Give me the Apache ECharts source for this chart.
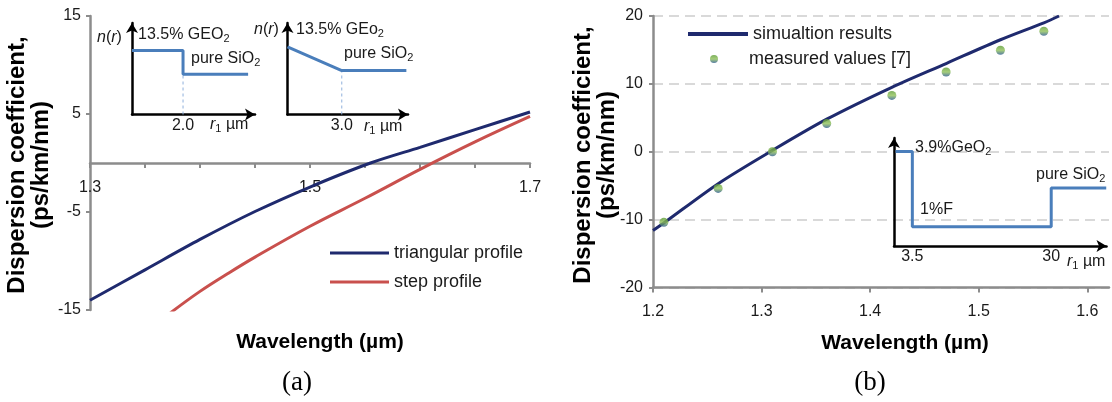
<!DOCTYPE html>
<html><head><meta charset="utf-8">
<script src="https://cdn.jsdelivr.net/npm/echarts@6/dist/echarts.min.js"></script>
<style>html,body{margin:0;padding:0;background:#fff}#c{width:1112px;height:402px}</style>
</head><body><div id="c"></div>
<script>
// ---- Panel (a) ----
const wlA_tri = [1.30, 1.35, 1.40, 1.45, 1.50, 1.555, 1.60, 1.65, 1.70];
const dA_tri = [-14.0, -10.9, -7.8, -4.95, -2.45, 0.0, 1.6, 3.4, 5.2];
const wlA_step = [1.373, 1.40, 1.425, 1.45, 1.50, 1.55, 1.60, 1.65, 1.70];
const dA_step = [-15.3, -13.1, -11.3, -9.6, -6.45, -3.6, -0.65, 2.15, 4.75];
const xLabelsA = [1.3, 1.5, 1.7];
// ---- Panel (b) ----
const wlB_sim = [1.20, 1.21, 1.26, 1.31, 1.36, 1.42, 1.47, 1.52, 1.56, 1.574];
const dB_sim = [-11.6, -10.5, -4.7, 0.2, 4.8, 9.5, 13.0, 16.5, 19.0, 20.0];
const wlB_meas = [1.21, 1.26, 1.31, 1.36, 1.42, 1.47, 1.52, 1.56];
const dB_meas = [-10.4, -5.4, 0.0, 4.15, 8.3, 11.75, 14.95, 17.75];
const xLabelsB = [1.2, 1.3, 1.4, 1.5, 1.6];
// ---- Inset index profiles (radius, relative index) ----
const stepR = [0, 2.0, 2.0, 4.55];
const stepN = [0.70, 0.70, 0.44, 0.44];
const triR = [0, 3.0, 6.57];
const triN = [0.74, 0.48, 0.48];
const wR = [0.3, 3.5, 3.5, 30, 30, 40.5];
const wN = [0.876, 0.876, 0.179, 0.179, 0.536, 0.536];
const insetTicks1 = [2.0], insetTicks2 = [3.0], insetTicks3 = [3.5, 30];

const zip = (a, b) => a.map((v, i) => [v, b[i]]);
const FF = 'Liberation Sans, Arial, sans-serif';
const TXT = '#1a1a1a';
const GRAY = '#8c8c8c';
const NAVY = '#1f2a6e';
const RED = '#c9504d';
const BLUE = '#4a7ebb';

// panel (a) y range and grid height; the x axis sits at D = 0
const yMinA = -15, yMaxA = 15, gridHA = 294;
const zeroOffsetA = -((0 - yMinA) / (yMaxA - yMinA)) * gridHA;

const chart = echarts.init(document.getElementById('c'), null, {renderer: 'canvas'});

function mainY(grid, min, max, margin, split) {
  return {type: 'value', gridIndex: grid, min, max, interval: 10,
    axisLine: {show: true, onZero: false, lineStyle: {color: GRAY, width: 2.5}},
    axisTick: {show: true, length: 4, lineStyle: {color: GRAY, width: 2}},
    axisLabel: {margin, fontSize: 16, color: TXT, fontFamily: FF},
    splitLine: split ? {show: true, lineStyle: {color: '#d9d9d9', width: 2, type: [10, 6]}} : {show: false}};
}
function insetX(grid, max, ticks) {
  return {type: 'value', gridIndex: grid, min: 0, max,
    axisLine: {show: true, onZero: false, symbol: ['none', 'arrow'], symbolSize: [9, 10], lineStyle: {color: '#000', width: 2.5}},
    axisTick: {show: false},
    axisLabel: {customValues: ticks, formatter: v => (v === 30 ? '30' : v.toFixed(1)), margin: 3, fontSize: 16, color: TXT, fontFamily: FF},
    splitLine: {show: false}};
}
function insetY(grid) {
  return {type: 'value', gridIndex: grid, min: 0, max: 1,
    axisLine: {show: true, onZero: false, symbol: ['none', 'arrow'], symbolSize: [9, 10], lineStyle: {color: '#000', width: 2.5}},
    axisTick: {show: false}, axisLabel: {show: false}, splitLine: {show: false}};
}
const sub = {fontSize: 11, fontFamily: FF, fill: TXT, padding: [7, 0, 0, 0]};
const it = {fontSize: 16, fontFamily: FF, fontStyle: 'italic', fill: TXT};
const nn = {fontSize: 16, fontFamily: FF, fill: TXT};
function txt(x, y, text, extra) {
  return Object.assign({type: 'text', x, y, z: 100,
    style: Object.assign({text, fill: TXT, fontSize: 16, fontFamily: FF, align: 'left', verticalAlign: 'middle',
      textAlign: 'left', textVerticalAlign: 'middle', rich: {s: sub, i: it, n: nn}}, extra || {})});
}
function title(x, y, text, rot, size) {
  return {type: 'text', x, y, rotation: rot || 0, z: 100,
    style: {text, fill: '#000', fontSize: size || 21, fontWeight: 'bold', fontFamily: FF, lineHeight: 24,
      align: 'center', verticalAlign: 'middle', textAlign: 'center', textVerticalAlign: 'middle'}};
}
function caption(x, y, text) {
  return {type: 'text', x, y, z: 100, style: {text, fill: '#000', fontSize: 27, fontFamily: 'Liberation Serif, Times New Roman, serif',
    align: 'center', verticalAlign: 'middle', textAlign: 'center', textVerticalAlign: 'middle'}};
}

const scatterGrad = {type: 'linear', x: 0, y: 0, x2: 0, y2: 1,
  colorStops: [{offset: 0, color: '#5c9c35'}, {offset: 0.5, color: '#8fc159'}, {offset: 1, color: '#2e5d8e'}]};

chart.setOption({
  animation: false,
  grid: [
    {left: 90, top: 16, width: 440, height: gridHA},
    {left: 653, top: 16, width: 456, height: 271.5},
    {left: 132, top: 23, width: 123, height: 91.5},
    {left: 287.5, top: 23, width: 120.5, height: 91.5},
    {left: 894, top: 138, width: 212.5, height: 108}
  ],
  xAxis: [
    {type: 'value', gridIndex: 0, min: 1.3, max: 1.7, interval: 0.05, offset: zeroOffsetA,
      axisLine: {show: true, onZero: false, lineStyle: {color: GRAY, width: 2.5}},
      axisTick: {show: true, length: 5, lineStyle: {color: GRAY, width: 2}},
      axisLabel: {formatter: v => {
          const k = Math.round(v * 100) / 100;
          return xLabelsA.some(t => Math.abs(t - k) < 1e-6) ? k.toFixed(1) : '';
        }, margin: 17, fontSize: 16, color: TXT, fontFamily: FF},
      splitLine: {show: false}},
    {type: 'value', gridIndex: 1, min: 1.2, max: 1.62, interval: 0.1,
      axisLine: {show: true, onZero: false, lineStyle: {color: GRAY, width: 2.5}},
      axisTick: {show: true, length: 5, customValues: xLabelsB, lineStyle: {color: GRAY, width: 2}},
      axisLabel: {customValues: xLabelsB, formatter: v => v.toFixed(1), margin: 16, fontSize: 16, color: TXT, fontFamily: FF},
      splitLine: {show: false}},
    insetX(2, 4.82, insetTicks1),
    insetX(3, 6.66, insetTicks2),
    insetX(4, 40.55, insetTicks3)
  ],
  yAxis: [
    mainY(0, yMinA, yMaxA, 9, false),
    mainY(1, -20, 20, 10, true),
    insetY(2), insetY(3), insetY(4)
  ],
  legend: [
    {data: ['triangular profile', 'step profile'], orient: 'vertical', left: 325, top: 239, itemGap: 11,
      icon: 'rect', itemWidth: 59, itemHeight: 3, textStyle: {fontSize: 18, color: TXT, fontFamily: FF}},
    {data: ['simualtion results'], left: 683, top: 20, icon: 'rect', itemWidth: 60, itemHeight: 4,
      textStyle: {fontSize: 18, color: TXT, fontFamily: FF}},
    {data: ['measured values [7]'], left: 705, top: 45, icon: 'circle', itemWidth: 60, itemHeight: 8,
      textStyle: {fontSize: 18, color: TXT, fontFamily: FF}}
  ],
  series: [
    {name: 'triangular profile', type: 'line', xAxisIndex: 0, yAxisIndex: 0, data: zip(wlA_tri, dA_tri),
      smooth: 0.3, symbol: 'none', color: NAVY, lineStyle: {color: NAVY, width: 3}, z: 5},
    {name: 'step profile', type: 'line', xAxisIndex: 0, yAxisIndex: 0, data: zip(wlA_step, dA_step),
      smooth: 0.4, symbol: 'none', color: RED, lineStyle: {color: RED, width: 3}, z: 4, clip: true},
    {name: 'simualtion results', type: 'line', xAxisIndex: 1, yAxisIndex: 1, data: zip(wlB_sim, dB_sim),
      smooth: 0.3, symbol: 'none', color: NAVY, lineStyle: {color: NAVY, width: 3}, z: 4},
    {name: 'measured values [7]', type: 'scatter', xAxisIndex: 1, yAxisIndex: 1, data: zip(wlB_meas, dB_meas),
      symbol: 'circle', symbolSize: 9, itemStyle: {color: scatterGrad}, z: 6},
    {type: 'line', xAxisIndex: 2, yAxisIndex: 2, data: zip(stepR, stepN), symbol: 'none',
      lineStyle: {color: BLUE, width: 3}, z: 3},
    {type: 'line', xAxisIndex: 2, yAxisIndex: 2, data: [[insetTicks1[0], 0], [insetTicks1[0], stepN[2]]], symbol: 'none',
      lineStyle: {color: '#8fb0dc', width: 1, type: [3, 3]}, z: 2},
    {type: 'line', xAxisIndex: 3, yAxisIndex: 3, data: zip(triR, triN), symbol: 'none',
      lineStyle: {color: BLUE, width: 3}, z: 3},
    {type: 'line', xAxisIndex: 3, yAxisIndex: 3, data: [[insetTicks2[0], 0], [insetTicks2[0], triN[1]]], symbol: 'none',
      lineStyle: {color: '#8fb0dc', width: 1, type: [3, 3]}, z: 2},
    {type: 'line', xAxisIndex: 4, yAxisIndex: 4, data: zip(wR, wN), symbol: 'none',
      lineStyle: {color: BLUE, width: 3}, z: 3}
  ],
  graphic: [
    title(29, 165, 'Dispersion coefficient,\n(ps/km/nm)', Math.PI / 2, 24),
    title(595, 155, 'Dispersion coefficient,\n(ps/km/nm)', Math.PI / 2, 24),
    title(320, 342, 'Wavelength (\u00b5m)'),
    title(905, 343, 'Wavelength (\u00b5m)'),
    caption(297, 383, '(a)'),
    caption(870, 383, '(b)'),
    txt(97, 38, '{i|n}{n|(}{i|r}{n|)}'),
    txt(138, 35, '13.5% GEO{s|2}'),
    txt(191, 59, 'pure SiO{s|2}'),
    txt(210, 125, '{i|r}{s|1}{n| \u00b5m}'),
    txt(254, 30, '{i|n}{n|(}{i|r}{n|)}'),
    txt(296, 30, '13.5% GEo{s|2}'),
    txt(344, 54, 'pure SiO{s|2}'),
    txt(364, 127, '{i|r}{s|1}{n| \u00b5m}'),
    txt(915, 148, '3.9%GeO{s|2}'),
    txt(920, 210, '1%F'),
    txt(1036, 175, 'pure SiO{s|2}'),
    txt(1067, 262, '{i|r}{s|1}{n| \u00b5m}')
  ]
});
</script>
</body></html>
